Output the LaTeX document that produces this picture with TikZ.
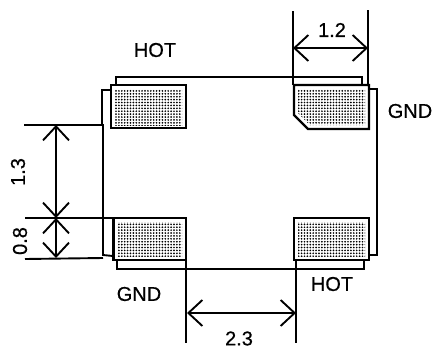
\documentclass[tikz,border=0pt]{standalone}
\usepackage{fontspec}
\setmainfont[FakeBold=0.6]{Liberation Sans}
\usetikzlibrary{arrows.meta,patterns.meta}
\tikzset{
  x=1pt,y=-1pt,
  padedge/.style={draw=black,line width=2.4pt,fill=white,line join=miter},
  padfill/.style={pattern={Dots[distance=2.9pt,radius=0.95pt,angle=0]},pattern color=black},
  body/.style={draw=black,line width=1.9pt,line join=miter},
  ext/.style={draw=black,line width=1.9pt},
  dim/.style={draw=black,line width=1.9pt,{Straight Barb[length=14pt,width=26pt,line width=1.9pt]}-{Straight Barb[length=14pt,width=26pt,line width=1.9pt]}},
  lab/.style={font=\fontsize{20}{20}\selectfont,inner sep=0pt,text=black}
}
\begin{document}
\begin{tikzpicture}
\useasboundingbox (0,0) rectangle (434,349);
% package outline
\draw[body] (116,85) -- (116,77) -- (362,77) -- (362,85);
\draw[body] (111,90) -- (102,90) -- (102,125) -- (103,125) -- (103,255) -- (113,256);
\draw[body] (369,89) -- (377,89) -- (377,255) -- (369,255);
\draw[body] (117,260) -- (117,269) -- (364,269) -- (364,260);
% pads
\draw[padedge] (111,85) rectangle (186,128);
\fill[padfill] (115,89) rectangle (182,125);
\draw[padedge] (294,85) -- (369,85) -- (369,129) -- (308,129) -- (294,115) -- cycle;
\fill[padfill] (298,89) -- (365,89) -- (365,125) -- (310,125) -- (298,113) -- cycle;
\draw[padedge] (113.5,218) rectangle (186,260);
\fill[padfill] (117,222) rectangle (182,256);
\draw[padedge] (294,218) rectangle (369,260);
\fill[padfill] (298,222) rectangle (365,256);
% dimension anchors
\coordinate (a1) at (293,11); \coordinate (a2) at (293,85);
\coordinate (b1) at (368,10); \coordinate (b2) at (368,85);
\coordinate (c1) at (293,48); \coordinate (c2) at (368,48);
\coordinate (d1) at (24,125); \coordinate (d2) at (103,125);
\coordinate (e1) at (25,218); \coordinate (e2) at (113,218);
\coordinate (f1) at (25,259); \coordinate (f2) at (103,258);
\coordinate (g1) at (56,125); \coordinate (g2) at (56,218); \coordinate (g3) at (56,258);
\coordinate (h1) at (186,260); \coordinate (h2) at (186,343);
\coordinate (i1) at (296,260); \coordinate (i2) at (296,343);
\coordinate (j1) at (187,313); \coordinate (j2) at (296,313);
\draw[ext] (a1) -- (a2);
\draw[ext] (b1) -- (b2);
\draw[ext] (d1) -- (d2);
\draw[ext] (e1) -- (e2);
\draw[ext] (f1) -- (f2);
\draw[ext] (h1) -- (h2);
\draw[ext] (i1) -- (i2);
\draw[dim] (c1) -- (c2);
\draw[dim] (g1) -- (g2);
\draw[dim] (g2) -- (g3);
\draw[dim] (j1) -- (j2);
% labels
\node[lab] (hot1) at (155,50) {HOT};
\node[lab] (dim12) at (332,30) {1.2};
\node[lab] (gnd1) at (410,111) {GND};
\node[lab,rotate=90] (dim13) at (18,172) {1.3};
\node[lab,rotate=90] (dim08) at (20,241) {0.8};
\node[lab] (gnd2) at (139,294) {GND};
\node[lab] (hot2) at (332,284) {HOT};
\node[lab] (dim23) at (239,338.5) {2.3};
\end{tikzpicture}
\end{document}
